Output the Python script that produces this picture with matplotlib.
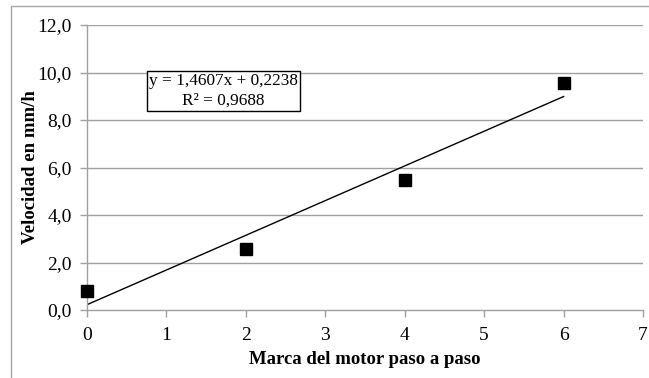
import matplotlib
matplotlib.use("Agg")
import matplotlib.pyplot as plt
import numpy as np

# Data: speed vs. stepper-motor setting
marca = [0, 2, 4, 6]
velocidad = [0.81, 2.56, 5.48, 9.57]

# Linear trendline as reported in the label
pendiente = 1.4607
ordenada = 0.2238
r2 = 0.9688

x_ticks = [0, 1, 2, 3, 4, 5, 6, 7]
y_ticks = [0, 2, 4, 6, 8, 10, 12]

plt.rcParams['font.family'] = ['Liberation Serif', 'DejaVu Serif']

fig = plt.figure(figsize=(6.49, 3.78), dpi=100)
ax = fig.add_axes([87 / 649, 1 - 310 / 378, (643 - 87) / 649, (310 - 25) / 378])

# Outer chart border
border = plt.Rectangle((11 / 649, -0.05), 1.2, 1 - 6 / 378 + 0.05,
                       transform=fig.transFigure, fill=False,
                       edgecolor='#a6a6a6', linewidth=1.0)
fig.patches.append(border)

grid_color = '#a0a0a0'
for yt in y_ticks[1:]:
    ax.axhline(yt, color=grid_color, linewidth=1.0, zorder=1)

# Trendline over the data range
xl = np.array([min(marca), max(marca)])
ax.plot(xl, pendiente * xl + ordenada, color='black', linewidth=1.0, zorder=2)

ax.plot(marca, velocidad, linestyle='none', marker='s', markersize=8.5,
        color='black', zorder=3, clip_on=False)

ax.set_xlim(0, 7)
ax.set_ylim(0, 12)
ax.set_xticks(x_ticks)
ax.set_yticks(y_ticks)
ax.set_yticklabels([f"{v:.1f}".replace('.', ',') for v in y_ticks])
ax.set_xticklabels([str(v) for v in x_ticks])

for s in ['top', 'right']:
    ax.spines[s].set_visible(False)
for s in ['left', 'bottom']:
    ax.spines[s].set_color(grid_color)
    ax.spines[s].set_linewidth(1.0)
ax.tick_params(axis='both', direction='out', length=5, width=1.0,
               color=grid_color, labelsize=14, labelcolor='black')
ax.tick_params(axis='x', pad=7)
ax.tick_params(axis='y', pad=6)

ax.set_xlabel('Marca del motor paso a paso', fontsize=13.5, fontweight='bold',
              labelpad=5)
ax.set_ylabel('Velocidad en mm/h', fontsize=13.5, fontweight='bold', labelpad=-1)

eq = (f"y = {pendiente:.4f}x + {ordenada:.4f}".replace('.', ',') + "\n" +
      f"R² = {r2:.4f}".replace('.', ','))
ax.text(1.72, 9.22, eq, fontsize=12.4, ha='center', va='center',
        linespacing=1.35, zorder=4,
        bbox=dict(boxstyle='square,pad=0.12', facecolor='white',
                  edgecolor='black', linewidth=1.0))

fig.savefig('out.png', dpi=100)
